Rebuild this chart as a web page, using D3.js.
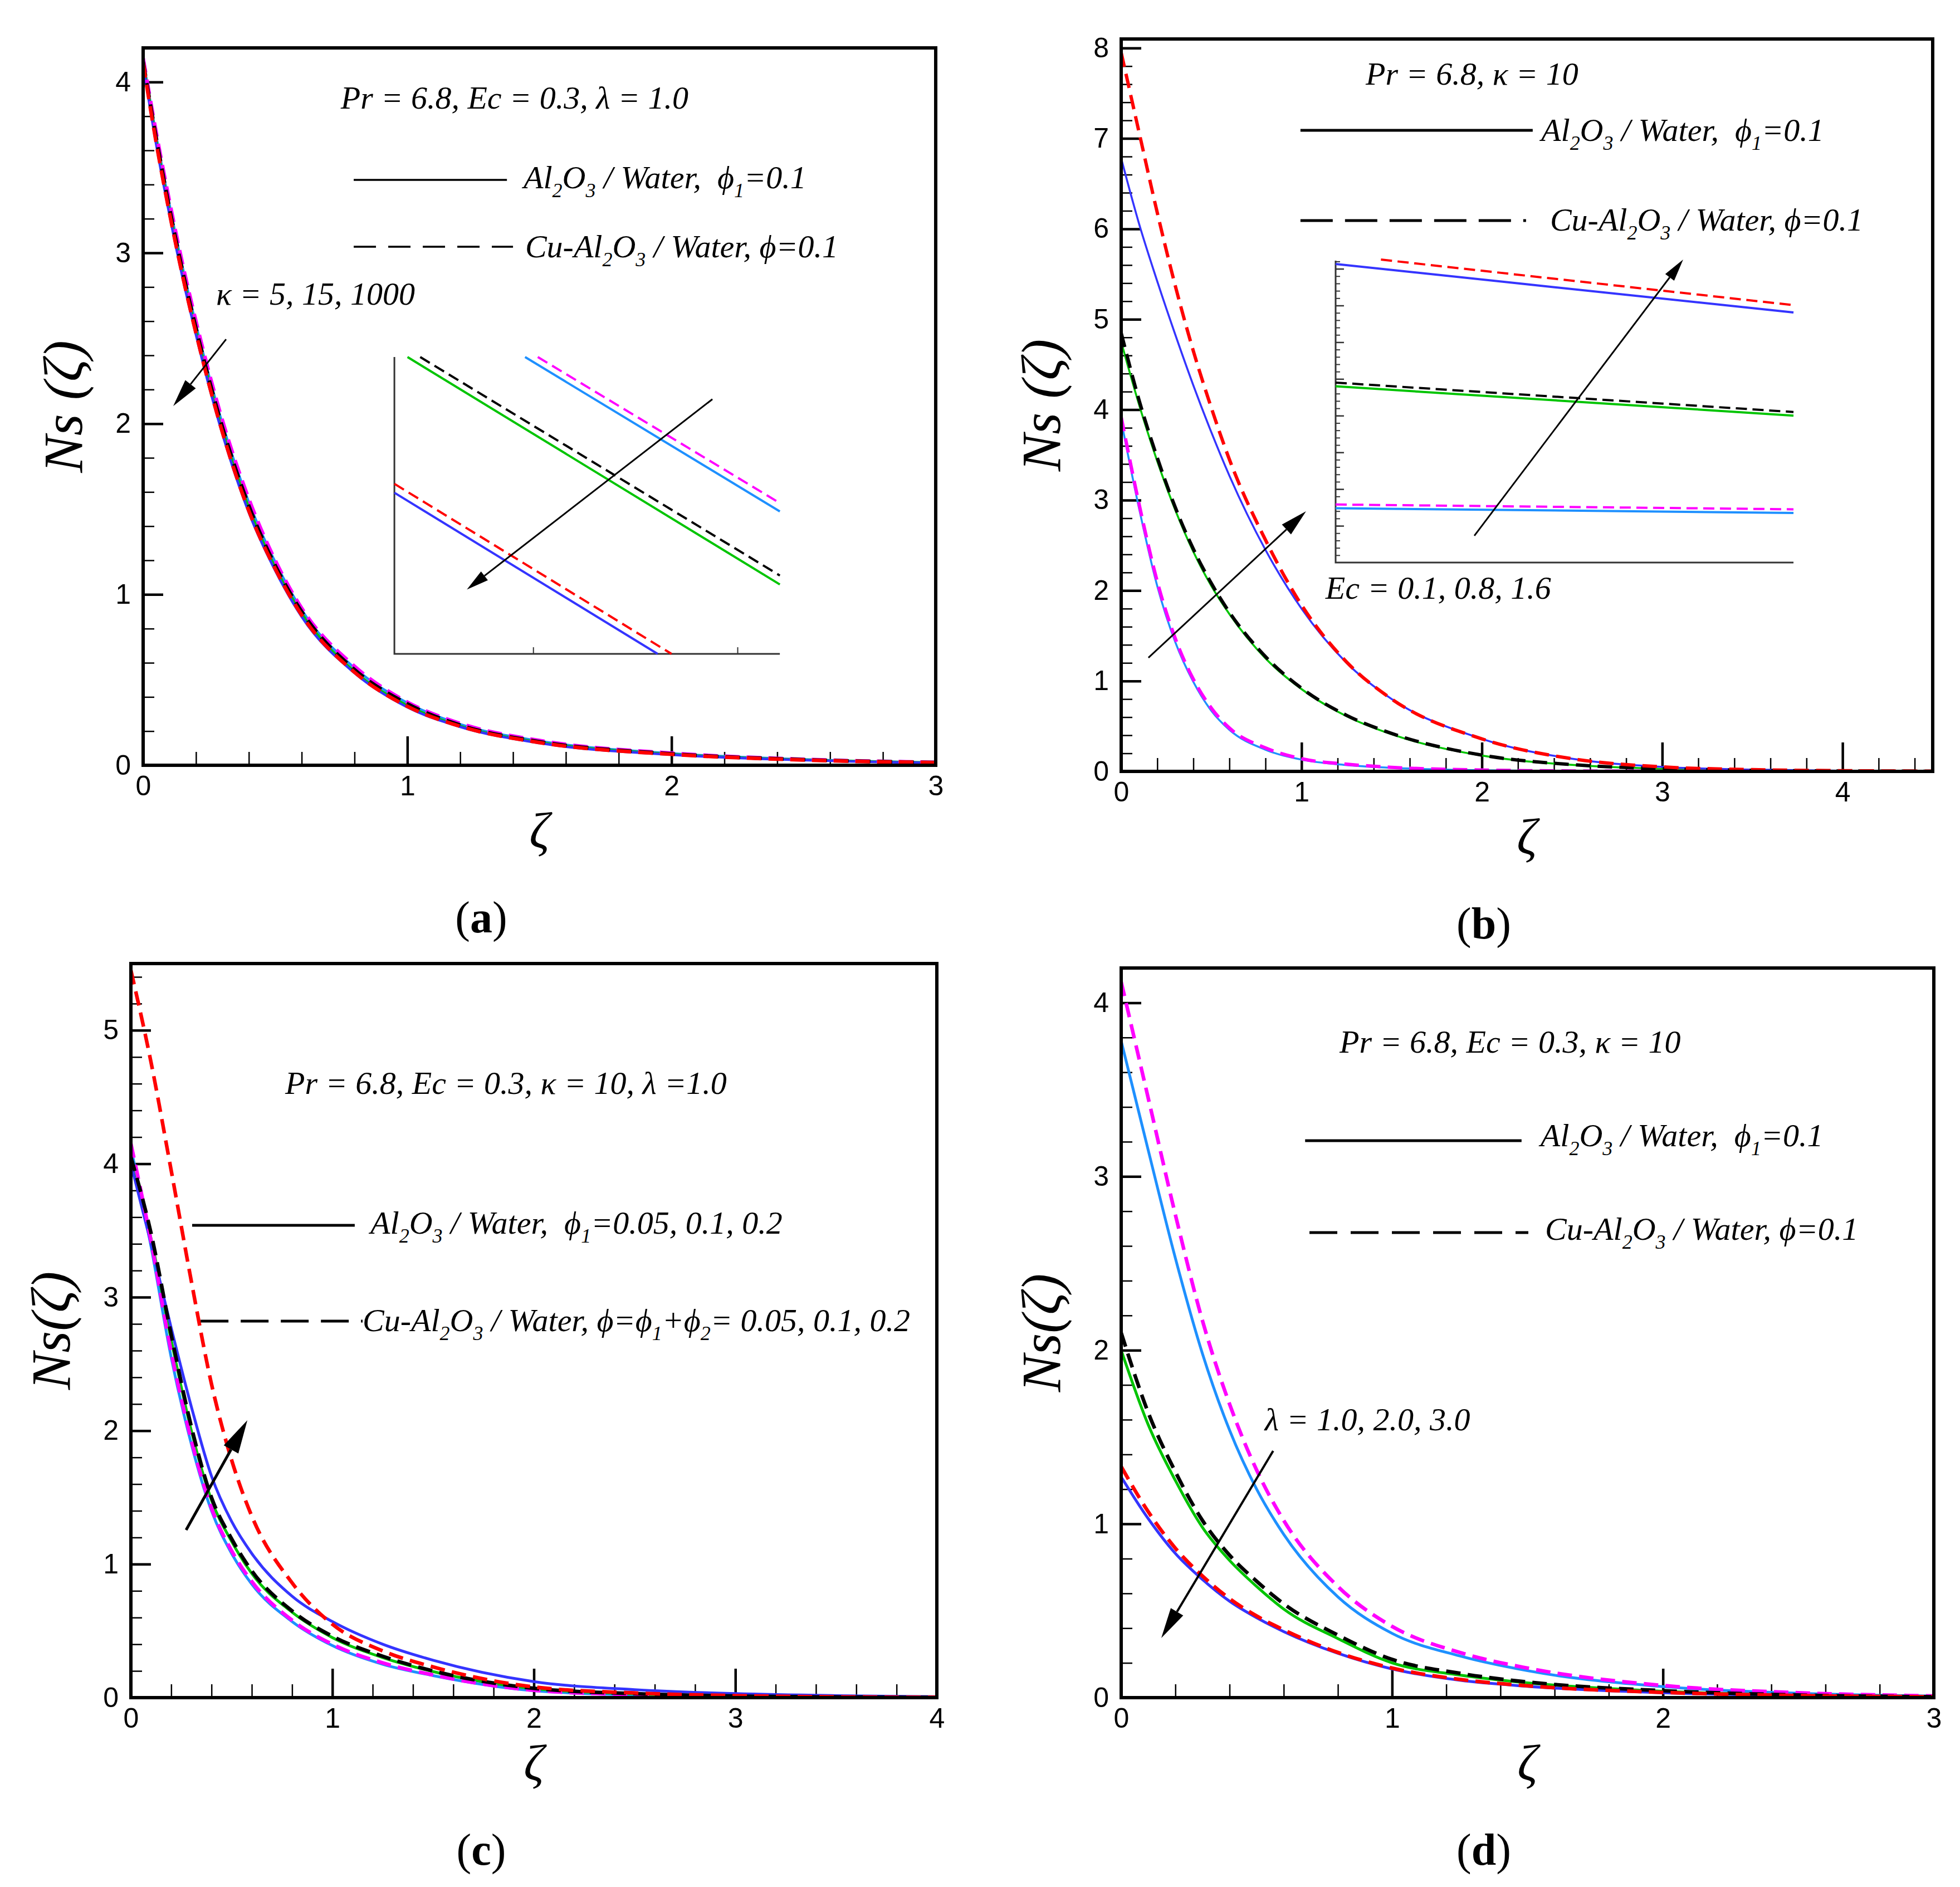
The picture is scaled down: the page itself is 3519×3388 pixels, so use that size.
<!DOCTYPE html>
<html>
<head>
<meta charset="utf-8">
<script src="https://cdn.jsdelivr.net/npm/d3@7"></script>
<style>
  body { margin: 0; background: #fff; }
</style>
</head>
<body>
<div id="chart-area"></div>
<script>
// Constants
const WIDTH = 3519;
const HEIGHT = 3388;
const SERIF = '"Liberation Serif", "Times New Roman", "DejaVu Serif", serif';
const SANS = '"Liberation Sans", Arial, sans-serif';
const COLORS = { blue: '#3434ff', red: '#ff0000', green: '#00c400', black: '#000000', sky: '#1e90ff', magenta: '#ff00ff' };

// ---- Data: panel (a), kappa = 5, 15, 1000 ----
const zetaA = [0, 0.05, 0.1, 0.15, 0.2, 0.3, 0.4, 0.5, 0.6, 0.8, 1.0, 1.2, 1.5, 2.0, 2.5, 3.0];
const aBlue    = [4.10, 3.63, 3.22, 2.85, 2.52, 1.94, 1.48, 1.14, 0.87, 0.54, 0.34, 0.225, 0.13, 0.062, 0.030, 0.014];
const aRed     = [4.11, 3.64, 3.23, 2.86, 2.53, 1.95, 1.49, 1.15, 0.88, 0.545, 0.345, 0.228, 0.133, 0.064, 0.031, 0.015];
const aGreen   = [4.12, 3.66, 3.25, 2.88, 2.55, 1.97, 1.51, 1.16, 0.89, 0.55, 0.35, 0.23, 0.135, 0.065, 0.032, 0.015];
const aBlack   = [4.12, 3.67, 3.26, 2.89, 2.56, 1.98, 1.52, 1.17, 0.90, 0.56, 0.36, 0.235, 0.138, 0.067, 0.033, 0.016];
const aSky     = [4.13, 3.68, 3.28, 2.91, 2.58, 2.00, 1.54, 1.19, 0.91, 0.57, 0.365, 0.24, 0.142, 0.069, 0.034, 0.016];
const aMagenta = [4.14, 3.70, 3.30, 2.93, 2.60, 2.02, 1.56, 1.20, 0.92, 0.58, 0.37, 0.245, 0.145, 0.071, 0.035, 0.017];
const aXTicks = [0, 1, 2, 3];
const aYTicks = [0, 1, 2, 3, 4];

// inset (a): zoomed segments, [u, v] in inset units
const insetAGreen   = [[0.034, 1.0], [1.0, 0.234]];
const insetABlack   = [[0.067, 1.0], [1.0, 0.264]];
const insetASky     = [[0.339, 1.0], [1.0, 0.480]];
const insetAMagenta = [[0.372, 1.0], [1.0, 0.508]];
const insetARed     = [[0.0, 0.573], [0.719, 0.0]];
const insetABlue    = [[0.0, 0.543], [0.683, 0.0]];
const insetAXTicks = [0.36, 0.89];

// ---- Data: panel (b), Ec = 0.1, 0.8, 1.6 ----
const zetaB = [0, 0.1, 0.2, 0.3, 0.4, 0.5, 0.6, 0.8, 1.0, 1.25, 1.5, 2.0, 2.5, 3.0, 3.5, 4.0, 4.5];
const bRed     = [7.95, 7.06, 6.18, 5.37, 4.65, 4.02, 3.45, 2.56, 1.84, 1.21, 0.80, 0.36, 0.14, 0.05, 0.02, 0.008, 0.003];
const bBlue    = [6.78, 6.05, 5.42, 4.83, 4.27, 3.75, 3.27, 2.45, 1.80, 1.20, 0.80, 0.36, 0.14, 0.05, 0.02, 0.008, 0.003];
const bBlack   = [4.85, 4.10, 3.47, 2.92, 2.46, 2.08, 1.76, 1.27, 0.92, 0.62, 0.42, 0.18, 0.075, 0.03, 0.012, 0.005, 0.002];
const bGreen   = [4.75, 4.05, 3.43, 2.89, 2.43, 2.05, 1.74, 1.25, 0.91, 0.61, 0.41, 0.175, 0.072, 0.028, 0.011, 0.005, 0.002];
const bMagenta = [3.92, 2.95, 2.10, 1.47, 1.02, 0.70, 0.48, 0.26, 0.14, 0.08, 0.045, 0.015, 0.005, 0.002, 0.001, 0, 0];
const bSky     = [3.88, 2.90, 2.05, 1.43, 0.99, 0.67, 0.46, 0.24, 0.13, 0.07, 0.04, 0.012, 0.004, 0.001, 0, 0, 0];
const bXTicks = [0, 1, 2, 3, 4];
const bYTicks = [0, 1, 2, 3, 4, 5, 6, 7, 8];

// inset (b)
const insetBBlue    = [[0.0, 8.13], [1.0, 6.81]];
const insetBRed     = [[0.099, 8.25], [1.0, 7.01]];
const insetBBlack   = [[0.0, 4.90], [1.0, 4.10]];
const insetBGreen   = [[0.0, 4.80], [1.0, 4.00]];
const insetBMagenta = [[0.0, 1.58], [1.0, 1.45]];
const insetBSky     = [[0.0, 1.48], [1.0, 1.35]];
const insetBYTicks = [1, 2, 3, 4, 5, 6, 7, 8];

// ---- Data: panel (c), phi = 0.05, 0.1, 0.2 ----
const zetaC = [0, 0.1, 0.2, 0.3, 0.4, 0.5, 0.6, 0.8, 1.0, 1.25, 1.5, 2.0, 2.5, 3.0, 3.5, 4.0];
const cRed     = [5.45, 4.76, 3.95, 3.12, 2.35, 1.78, 1.36, 0.86, 0.55, 0.35, 0.23, 0.08, 0.035, 0.015, 0.006, 0.003];
const cBlue    = [4.00, 3.40, 2.77, 2.18, 1.66, 1.32, 1.08, 0.76, 0.57, 0.40, 0.28, 0.12, 0.06, 0.03, 0.015, 0.007];
const cBlack   = [4.05, 3.48, 2.72, 2.03, 1.50, 1.19, 0.95, 0.65, 0.46, 0.31, 0.20, 0.07, 0.03, 0.012, 0.005, 0.002];
const cGreen   = [4.00, 3.44, 2.68, 2.00, 1.48, 1.17, 0.93, 0.64, 0.45, 0.30, 0.195, 0.068, 0.028, 0.011, 0.005, 0.002];
const cMagenta = [4.15, 3.42, 2.59, 1.93, 1.42, 1.10, 0.87, 0.58, 0.40, 0.26, 0.17, 0.055, 0.022, 0.009, 0.004, 0.001];
const cSky     = [4.12, 3.38, 2.55, 1.90, 1.40, 1.08, 0.85, 0.57, 0.39, 0.25, 0.165, 0.052, 0.020, 0.008, 0.003, 0.001];
const cXTicks = [0, 1, 2, 3, 4];
const cYTicks = [0, 1, 2, 3, 4, 5];

// ---- Data: panel (d), lambda = 1.0, 2.0, 3.0 ----
const zetaD = [0, 0.1, 0.2, 0.3, 0.4, 0.5, 0.6, 0.8, 1.0, 1.25, 1.5, 2.0, 2.5, 3.0];
const dMagenta = [4.12, 3.45, 2.78, 2.17, 1.69, 1.31, 1.02, 0.64, 0.41, 0.26, 0.17, 0.07, 0.028, 0.010];
const dSky     = [3.78, 3.15, 2.53, 1.98, 1.54, 1.20, 0.94, 0.58, 0.37, 0.24, 0.155, 0.063, 0.025, 0.009];
const dBlack   = [2.10, 1.64, 1.30, 1.02, 0.82, 0.67, 0.54, 0.36, 0.22, 0.14, 0.09, 0.04, 0.015, 0.005];
const dGreen   = [2.00, 1.57, 1.25, 0.98, 0.79, 0.64, 0.51, 0.34, 0.20, 0.13, 0.085, 0.037, 0.014, 0.005];
const dRed     = [1.33, 1.07, 0.86, 0.70, 0.57, 0.47, 0.39, 0.26, 0.17, 0.105, 0.068, 0.03, 0.012, 0.005];
const dBlue    = [1.27, 1.03, 0.83, 0.68, 0.555, 0.46, 0.38, 0.255, 0.165, 0.10, 0.065, 0.028, 0.011, 0.004];
const dXTicks = [0, 1, 2, 3];
const dYTicks = [0, 1, 2, 3, 4];

// SVG
const svg = d3.select('#chart-area')
    .append('svg')
    .attr('width', WIDTH)
    .attr('height', HEIGHT)
    .style('background', '#fff');

// text with single-character subscripts written as _x
function richText(g, x, y, str, size) {
    const t = g.append('text')
        .attr('x', x).attr('y', y)
        .attr('font-family', SERIF)
        .attr('font-style', 'italic')
        .attr('font-size', size)
        .style('white-space', 'pre');
    let low = false;
    str.split(/(_.)/).forEach(p => {
        if (!p) return;
        if (p[0] === '_') {
            t.append('tspan').attr('font-size', size * 0.62).attr('dy', low ? 0 : size * 0.28).text(p[1]);
            low = true;
        } else {
            t.append('tspan').attr('dy', low ? -size * 0.28 : 0).text(p);
            low = false;
        }
    });
    return t;
}

function arrow(g, x1, y1, x2, y2, sw, hl, hw) {
    const a = Math.atan2(y2 - y1, x2 - x1);
    const bx = x2 - hl * Math.cos(a), by = y2 - hl * Math.sin(a);
    g.append('line')
        .attr('x1', x1).attr('y1', y1).attr('x2', bx).attr('y2', by)
        .attr('stroke', '#000').attr('stroke-width', sw);
    const px = -Math.sin(a) * hw / 2, py = Math.cos(a) * hw / 2;
    g.append('path')
        .attr('d', `M${x2},${y2}L${bx + px},${by + py}L${bx - px},${by - py}Z`)
        .attr('fill', '#000');
}

// tick marks only, no labels
function bareTicks(sel, w, color) {
    sel.select('.domain').remove();
    sel.selectAll('text').remove();
    sel.selectAll('line').attr('stroke-width', w).attr('stroke', color || '#000');
}

function drawPanel(p) {
    const g = svg.append('g');
    const x = d3.scaleLinear().domain(p.xDomain).range([p.L, p.R]);
    const y = d3.scaleLinear().domain(p.yDomain).range([p.B, p.T]);

    g.append('clipPath').attr('id', p.id)
        .append('rect')
        .attr('x', p.L).attr('y', p.T)
        .attr('width', p.R - p.L).attr('height', p.B - p.T);

    // minor ticks
    const minorX = d3.range(p.xDomain[0], p.xDomain[1] + 1e-6, 0.2);
    const minorY = d3.range(p.yDomain[0], p.yDomain[1] + 1e-6, 0.2);
    g.append('g')
        .attr('transform', `translate(0,${p.B})`)
        .call(d3.axisBottom(x).tickValues(minorX).tickSize(-24))
        .call(a => bareTicks(a, 2.5));
    g.append('g')
        .attr('transform', `translate(${p.L},0)`)
        .call(d3.axisLeft(y).tickValues(minorY).tickSize(-20))
        .call(a => bareTicks(a, 2.5));

    // major ticks with labels
    const ax = g.append('g')
        .attr('transform', `translate(0,${p.B})`)
        .call(d3.axisBottom(x).tickValues(p.xTicks).tickSize(-52).tickPadding(18).tickFormat(d3.format('d')));
    const ay = g.append('g')
        .attr('transform', `translate(${p.L},0)`)
        .call(d3.axisLeft(y).tickValues(p.yTicks).tickSize(-36).tickPadding(22).tickFormat(d3.format('d')));
    [ax, ay].forEach(a => {
        a.select('.domain').remove();
        a.attr('font-size', 50).attr('font-family', SANS);
        a.selectAll('line').attr('stroke-width', 4.5);
        a.selectAll('text').attr('fill', '#000');
    });

    // curves
    const line = d3.line()
        .x(d => x(d[0]))
        .y(d => y(d[1]))
        .curve(d3.curveMonotoneX);
    const curves = g.append('g').attr('clip-path', `url(#${p.id})`);
    p.series.forEach(s => {
        curves.append('path')
            .datum(p.zeta.map((z, i) => [z, s.values[i]]))
            .attr('d', line)
            .attr('fill', 'none')
            .attr('stroke', s.color)
            .attr('stroke-width', s.dashed ? p.dashWidth : p.solidWidth)
            .attr('stroke-dasharray', s.dashed ? '26,13' : null);
    });

    // frame
    g.append('rect')
        .attr('x', p.L).attr('y', p.T)
        .attr('width', p.R - p.L).attr('height', p.B - p.T)
        .attr('fill', 'none').attr('stroke', '#000').attr('stroke-width', 6);

    // axis titles
    g.append('text')
        .attr('transform', `translate(${p.L - 110},${(p.T + p.B) / 2}) rotate(-90)`)
        .attr('text-anchor', 'middle')
        .attr('font-family', SERIF).attr('font-style', 'italic').attr('font-size', 100)
        .style('white-space', 'pre')
        .text(p.yTitle);
    g.append('text')
        .attr('x', (p.L + p.R) / 2).attr('y', p.B + 148)
        .attr('text-anchor', 'middle')
        .attr('font-family', SERIF).attr('font-style', 'italic').attr('font-size', 90)
        .text('ζ');

    // sub-figure label
    const lab = g.append('text')
        .attr('x', p.labelX).attr('y', p.B + 300)
        .attr('text-anchor', 'middle')
        .attr('font-family', SERIF).attr('font-size', 80);
    lab.append('tspan').text('(');
    lab.append('tspan').attr('font-weight', 'bold').text(p.label);
    lab.append('tspan').text(')');

    // annotations
    richText(g, x(p.title[0]), y(p.title[1]), p.title[2], 58);
    p.legend.forEach(l => {
        g.append('line')
            .attr('x1', x(l.x[0])).attr('x2', x(l.x[1]))
            .attr('y1', y(l.y)).attr('y2', y(l.y))
            .attr('stroke', '#000').attr('stroke-width', p.legendWidth)
            .attr('stroke-dasharray', l.dashed ? p.legendDash : null);
        richText(g, x(l.text[0]), y(l.text[1]), l.text[2], 58);
    });
    if (p.note) richText(g, x(p.note[0]), y(p.note[1]), p.note[2], 58);
    const ar = p.arrow;
    arrow(g, x(ar.from[0]), y(ar.from[1]), x(ar.to[0]), y(ar.to[1]), ar.sw, ar.hl, ar.hw);

    if (p.inset) drawInset(g, x, y, p.inset);
}

function drawInset(g, x, y, ins) {
    const L = x(ins.x[0]), R = x(ins.x[1]), B = y(ins.y[0]), T = y(ins.y[1]);
    const ix = d3.scaleLinear().domain([0, 1]).range([L, R]);
    const iy = d3.scaleLinear().domain(ins.vDomain).range([B, T]);
    const ig = g.append('g');

    if (ins.yTicks) {
        const minor = d3.range(0.2, ins.vDomain[1], 0.2);
        ig.append('g').attr('transform', `translate(${L},0)`)
            .call(d3.axisLeft(iy).tickValues(minor).tickSize(-8))
            .call(a => bareTicks(a, 2, '#333'));
        ig.append('g').attr('transform', `translate(${L},0)`)
            .call(d3.axisLeft(iy).tickValues(ins.yTicks).tickSize(-15))
            .call(a => bareTicks(a, 2.5, '#333'));
    }
    if (ins.xTicks) {
        ig.append('g').attr('transform', `translate(0,${B})`)
            .call(d3.axisBottom(ix).tickValues(ins.xTicks).tickSize(-12))
            .call(a => bareTicks(a, 2, '#333'));
    }
    ig.append('path')
        .attr('d', `M${L},${T}V${B}H${R}`)
        .attr('fill', 'none').attr('stroke', '#333').attr('stroke-width', 3);

    const line = d3.line().x(d => ix(d[0])).y(d => iy(d[1]));
    ins.series.forEach(s => {
        ig.append('path')
            .datum(s.values)
            .attr('d', line)
            .attr('fill', 'none')
            .attr('stroke', s.color)
            .attr('stroke-width', 4)
            .attr('stroke-dasharray', s.dashed ? '20,10' : null);
    });
    const ar = ins.arrow;
    arrow(ig, ix(ar.from[0]), iy(ar.from[1]), ix(ar.to[0]), iy(ar.to[1]), 3, 40, 20);
}

const series = (blue, red, green, black, sky, magenta) => [
    { values: sky, color: COLORS.sky },
    { values: green, color: COLORS.green },
    { values: blue, color: COLORS.blue },
    { values: magenta, color: COLORS.magenta, dashed: true },
    { values: black, color: COLORS.black, dashed: true },
    { values: red, color: COLORS.red, dashed: true }
];

const LEG1 = 'Al_2O_3 / Water,  ϕ_1=0.1';
const LEG2 = 'Cu-Al_2O_3 / Water, ϕ=0.1';

// Panel (a)
drawPanel({
    id: 'clipA', label: 'a', labelX: 864,
    L: 257, R: 1680, T: 86, B: 1374,
    xDomain: [0, 3], yDomain: [0, 4.2], xTicks: aXTicks, yTicks: aYTicks,
    zeta: zetaA, series: series(aBlue, aRed, aGreen, aBlack, aSky, aMagenta),
    solidWidth: 4.5, dashWidth: 6.5,
    yTitle: 'Ns (ζ)',
    title: [0.748, 3.845, 'Pr = 6.8, Ec = 0.3, λ = 1.0'],
    legendWidth: 3.5, legendDash: '40,22',
    legend: [
        { x: [0.797, 1.377], y: 3.427, text: [1.44, 3.378, LEG1] },
        { x: [0.797, 1.40], y: 3.036, dashed: true, text: [1.446, 2.974, LEG2] }
    ],
    note: [0.276, 2.697, 'κ = 5, 15, 1000'],
    arrow: { from: [0.314, 2.494], to: [0.114, 2.103], sw: 3, hl: 50, hw: 24 },
    inset: {
        x: [0.951, 2.410], y: [0.652, 2.390], vDomain: [0, 1], xTicks: insetAXTicks,
        series: [
            { values: insetASky, color: COLORS.sky },
            { values: insetAMagenta, color: COLORS.magenta, dashed: true },
            { values: insetAGreen, color: COLORS.green },
            { values: insetABlack, color: COLORS.black, dashed: true },
            { values: insetABlue, color: COLORS.blue },
            { values: insetARed, color: COLORS.red, dashed: true }
        ],
        arrow: { from: [0.825, 0.858], to: [0.188, 0.217] }
    }
});

// Panel (b)
drawPanel({
    id: 'clipB', label: 'b', labelX: 2664,
    L: 2013, R: 3470, T: 70, B: 1385,
    xDomain: [0, 4.5], yDomain: [0, 8.1], xTicks: bXTicks, yTicks: bYTicks,
    zeta: zetaB, series: series(bBlue, bRed, bGreen, bBlack, bSky, bMagenta),
    solidWidth: 3.5, dashWidth: 6,
    yTitle: 'Ns (ζ)',
    title: [1.356, 7.595, 'Pr = 6.8, κ = 10'],
    legendWidth: 5, legendDash: '58,22',
    legend: [
        { x: [0.994, 2.282], y: 7.09, text: [2.329, 6.973, LEG1] },
        { x: [0.994, 2.245], y: 6.092, dashed: true, text: [2.378, 5.981, LEG2] }
    ],
    note: [1.133, 1.909, 'Ec = 0.1, 0.8, 1.6'],
    arrow: { from: [0.151, 1.257], to: [1.025, 2.877], sw: 3, hl: 48, hw: 24 },
    inset: {
        x: [1.189, 3.728], y: [2.310, 5.648], vDomain: [0, 8.22], yTicks: insetBYTicks,
        series: [
            { values: insetBSky, color: COLORS.sky },
            { values: insetBMagenta, color: COLORS.magenta, dashed: true },
            { values: insetBGreen, color: COLORS.green },
            { values: insetBBlack, color: COLORS.black, dashed: true },
            { values: insetBBlue, color: COLORS.blue },
            { values: insetBRed, color: COLORS.red, dashed: true }
        ],
        arrow: { from: [0.303, 0.73], to: [0.759, 8.25] }
    }
});

// Panel (c)
drawPanel({
    id: 'clipC', label: 'c', labelX: 864,
    L: 235, R: 1682, T: 1730, B: 3048,
    xDomain: [0, 4], yDomain: [0, 5.5], xTicks: cXTicks, yTicks: cYTicks,
    zeta: zetaC, series: series(cBlue, cRed, cGreen, cBlack, cSky, cMagenta),
    solidWidth: 5, dashWidth: 6.5,
    yTitle: 'Ns(ζ)',
    title: [0.766, 4.524, 'Pr = 6.8, Ec = 0.3, κ = 10, λ =1.0'],
    legendWidth: 5, legendDash: '50,22',
    legend: [
        { x: [0.304, 1.111], y: 3.539, text: [1.189, 3.477, 'Al_2O_3 / Water,  ϕ_1=0.05, 0.1, 0.2'] },
        { x: [0.346, 1.150], y: 2.821, dashed: true, text: [1.150, 2.746, 'Cu-Al_2O_3 / Water, ϕ=ϕ_1+ϕ_2= 0.05, 0.1, 0.2'] }
    ],
    arrow: { from: [0.274, 1.256], to: [0.578, 2.078], sw: 5, hl: 60, hw: 30 }
});

// Panel (d)
drawPanel({
    id: 'clipD', label: 'd', labelX: 2664,
    L: 2013, R: 3472, T: 1738, B: 3048,
    xDomain: [0, 3], yDomain: [0, 4.2], xTicks: dXTicks, yTicks: dYTicks,
    zeta: zetaD, series: series(dBlue, dRed, dGreen, dBlack, dSky, dMagenta),
    solidWidth: 5, dashWidth: 6.5,
    yTitle: 'Ns(ζ)',
    title: [0.806, 3.713, 'Pr = 6.8, Ec = 0.3, κ = 10'],
    legendWidth: 5, legendDash: '50,24',
    legend: [
        { x: [0.679, 1.478], y: 3.206, text: [1.548, 3.174, LEG1] },
        { x: [0.695, 1.503], y: 2.677, dashed: true, text: [1.565, 2.635, LEG2] }
    ],
    note: [0.53, 1.539, 'λ = 1.0, 2.0, 3.0'],
    arrow: { from: [0.561, 1.42], to: [0.148, 0.343], sw: 4, hl: 55, hw: 26 }
});
</script>
</body>
</html>
